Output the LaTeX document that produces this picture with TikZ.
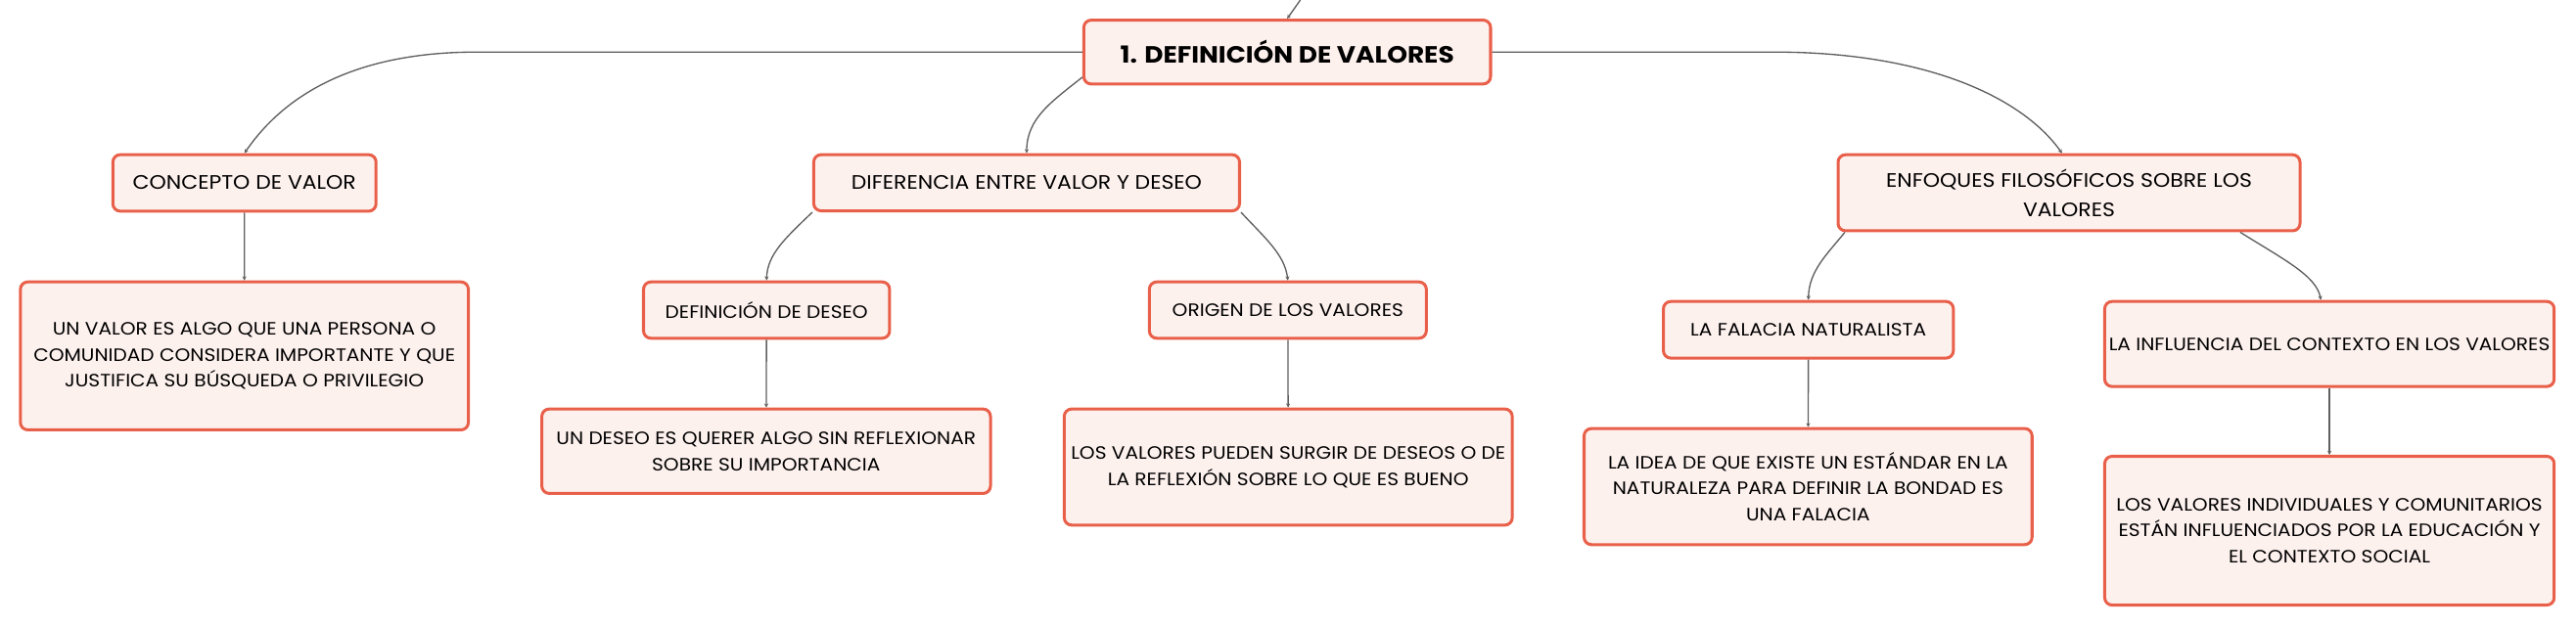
\documentclass[tikz,border=0pt]{standalone}
\usepackage{fontspec}
\setmainfont{Poppins}[FakeStretch=1.1]
\usetikzlibrary{arrows.meta}
\definecolor{borde}{HTML}{E9604A}
\definecolor{relleno}{HTML}{FDF1EE}
\definecolor{linea}{HTML}{5F5F5F}
\begin{document}
\begin{tikzpicture}[x=1pt,y=-1pt,
  caja/.style={draw=borde,fill=relleno,line width=1.8pt,rounded corners=4.5pt,align=center,inner sep=0pt,font=\fontsize{10.9}{16}\selectfont},
  tema/.style={caja,font=\fontsize{11.9}{18}\selectfont},
  enlace/.style={draw=linea,line width=0.8pt,-{Stealth[length=2.5pt,width=2.5pt]}}]
\useasboundingbox (0,0) rectangle (1568,381.3);
\node[caja,font=\fontsize{14.3}{18}\selectfont\bfseries,minimum width=247.6pt,minimum height=38.9pt] (main) at (783.5,31.7) {1. DEFINICIÓN DE VALORES};
\node[tema,minimum width=160.2pt,minimum height=34.4pt] (concepto) at (148.8,111.4) {CONCEPTO DE VALOR};
\node[tema,minimum width=259.2pt,minimum height=34.2pt] (diferencia) at (624.9,111.3) {DIFERENCIA ENTRE VALOR Y DESEO};
\node[tema,minimum width=281.2pt,minimum height=46.3pt] (enfoques) at (1259.4,117.4) {ENFOQUES FILOSÓFICOS SOBRE LOS\\VALORES};
\node[caja,minimum width=272.7pt,minimum height=90.1pt] (valor) at (148.75,216.75) {UN VALOR ES ALGO QUE UNA PERSONA O\\COMUNIDAD CONSIDERA IMPORTANTE Y QUE\\JUSTIFICA SU BÚSQUEDA O PRIVILEGIO};
\node[caja,minimum width=149.8pt,minimum height=34.3pt] (defdeseo) at (466.6,188.85) {DEFINICIÓN DE DESEO};
\node[caja,minimum width=168.6pt,minimum height=34.3pt] (origen) at (783.9,188.85) {ORIGEN DE LOS VALORES};
\node[caja,minimum width=273.1pt,minimum height=51.4pt] (deseo) at (466.35,274.8) {UN DESEO ES QUERER ALGO SIN REFLEXIONAR\\SOBRE SU IMPORTANCIA};
\node[caja,minimum width=272.7pt,minimum height=70.7pt] (surgir) at (784.15,284.45) {LOS VALORES PUEDEN SURGIR DE DESEOS O DE\\LA REFLEXIÓN SOBRE LO QUE ES BUENO};
\node[caja,minimum width=176.5pt,minimum height=34.5pt] (falacia) at (1100.75,200.85) {LA FALACIA NATURALISTA};
\node[caja,minimum width=273.6pt,minimum height=51.8pt] (influencia) at (1417.9,209.5) {LA INFLUENCIA DEL CONTEXTO EN LOS VALORES};
\node[caja,minimum width=272.7pt,minimum height=70.7pt] (idea) at (1100.55,296.35) {LA IDEA DE QUE EXISTE UN ESTÁNDAR EN LA\\NATURALEZA PARA DEFINIR LA BONDAD ES\\UNA FALACIA};
\node[caja,minimum width=273.6pt,minimum height=90.6pt] (individuales) at (1417.9,323.2) {LOS VALORES INDIVIDUALES Y COMUNITARIOS\\ESTÁN INFLUENCIADOS POR LA EDUCACIÓN Y\\EL CONTEXTO SOCIAL};
\coordinate (arriba) at (791.5,0);
\draw[enlace] (arriba) -- (main.north);
\draw[enlace] (main.west) -- (290,31.7) .. controls (220,31.7) and (175,55) .. (concepto.north);
\draw[enlace] (main.187) .. controls (640,62) and (625,72) .. (diferencia.north);
\draw[enlace] (main.east) -- (1080,31.7) .. controls (1170,31.7) and (1230,58) .. (enfoques.100);
\draw[enlace] (concepto) -- (valor);
\draw[enlace] (diferencia.south west) .. controls (478,145) and (467,155) .. (defdeseo.north);
\draw[enlace] (diferencia.south east) .. controls (770,145) and (782,155) .. (origen.north);
\draw[enlace] (defdeseo) -- (deseo);
\draw[enlace] (origen) -- (surgir);
\draw[enlace] (enfoques.190) .. controls (1112,155) and (1101,165) .. (falacia.north);
\draw[enlace] (enfoques.347) .. controls (1390,158) and (1410,168) .. (influencia.101);
\draw[enlace] (falacia) -- (idea);
\draw[enlace] (influencia) -- (individuales);
\end{tikzpicture}
\end{document}
